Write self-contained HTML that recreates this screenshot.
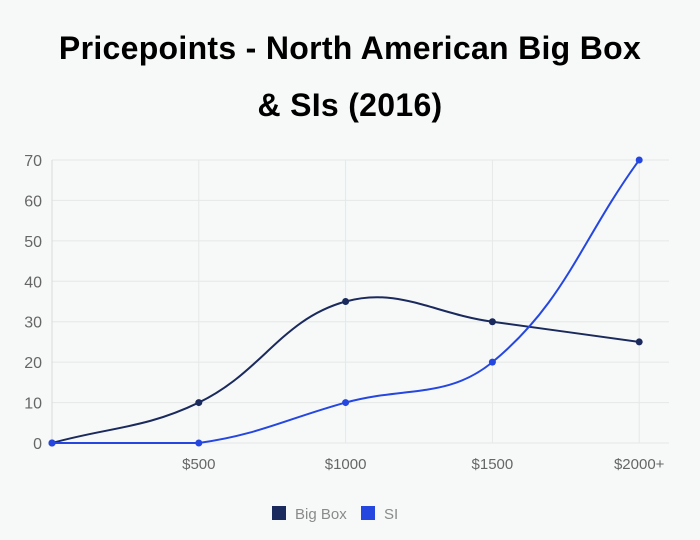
<!DOCTYPE html>
<html><head><meta charset="utf-8"><style>
html,body{margin:0;padding:0;background:#f7f9f9;width:700px;height:540px;overflow:hidden;font-family:"Liberation Sans",sans-serif}
#title{position:absolute;left:0;top:20px;width:700px;text-align:center;font-weight:bold;font-size:32px;line-height:57px;color:#000;letter-spacing:0.3px}
svg{position:absolute;left:0;top:0}
</style></head><body>
<div id="title">Pricepoints - North American Big Box<br>&amp; SIs (2016)</div>
<svg id="chart" width="700" height="540"></svg>
<script>
const categories=["","$500","$1000","$1500","$2000+"];
const bigBox=[0,10,35,30,25];
const si=[0,0,10,20,70];
const yTicks=[0,10,20,30,40,50,60,70];
const seriesNames=["Big Box","SI"];
const colors=["#1b2a5c","#2547e0"];
const NS="http://www.w3.org/2000/svg";
const svg=document.getElementById('chart');
const x0=52,xStep=146.8,right=669,yBase=443,yTop=160,yMax=70;
const X=i=>x0+i*xStep, Y=v=>yBase-(v/yMax)*(yBase-yTop);
function mk(t,a,p){const e=document.createElementNS(NS,t);for(const k in a)e.setAttribute(k,a[k]);(p||svg).appendChild(e);return e;}
yTicks.forEach(v=>{
 const l=mk('line',{x1:x0,x2:right,y1:Y(v),y2:Y(v),stroke:'#e6e8e8','stroke-width':1});
 
 
 const t=mk('text',{x:42,y:Y(v)+6,'text-anchor':'end','font-size':16,fill:'#666'});
 t.textContent=v;
 
 
});
categories.forEach((c,i)=>{
 const l=mk('line',{x1:X(i),x2:X(i),y1:yTop,y2:yBase,stroke:i==0?'#d8dada':'#e6e8e8','stroke-width':1});
 
 
 if(c){const t=mk('text',{x:X(i),y:469,'text-anchor':'middle','font-size':15,fill:'#666'});
 t.textContent=c;
 
 }
});
const clampY=y=>Math.min(yBase,Math.max(yTop,y));
function path(vals){
 const pts=vals.map((v,i)=>[X(i),Y(v)]);const tn=0.4;
 const cps=pts.map((p,i)=>{const a=pts[Math.max(i-1,0)],c=pts[Math.min(i+1,pts.length-1)];
  const d01=Math.hypot(p[0]-a[0],p[1]-a[1]),d12=Math.hypot(c[0]-p[0],c[1]-p[1]);
  let fa=d01/(d01+d12)||0,fb=d12/(d01+d12)||0;fa*=tn;fb*=tn;
  return {p:[p[0]-fa*(c[0]-a[0]),clampY(p[1]-fa*(c[1]-a[1]))],n:[p[0]+fb*(c[0]-a[0]),clampY(p[1]+fb*(c[1]-a[1]))]};});
 let d='M'+pts[0];
 for(let i=1;i<pts.length;i++)d+=' C'+cps[i-1].n+' '+cps[i].p+' '+pts[i];
 return d;
}
[bigBox,si].forEach((vals,s)=>{
 const p=mk('path',{d:path(vals),fill:'none',stroke:colors[s],'stroke-width':2});
 
 
 vals.forEach((v,i)=>{const c=mk('circle',{cx:X(i),cy:Y(v),r:3.5,fill:colors[s]});
  
  });
});
const lx=[272,361];
seriesNames.forEach((n,s)=>{
 const r=mk('rect',{x:lx[s],y:506,width:14,height:14,fill:colors[s]});
 
 
 const t=mk('text',{x:lx[s]+23,y:519,'font-size':15,fill:'#8a8a8a'});
 t.textContent=n;
 
 
});
</script>
</body></html>
